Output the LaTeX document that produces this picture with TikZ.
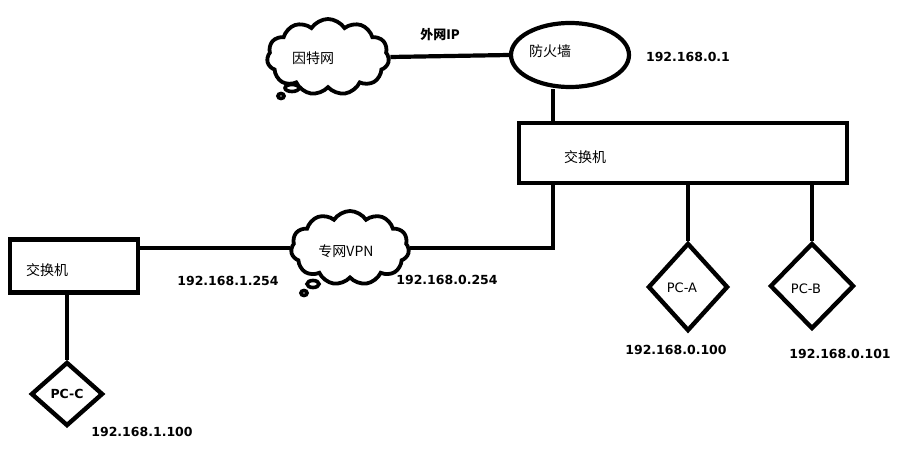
\documentclass[tikz,border=0pt]{standalone}
\usepackage{fontspec}
\setmainfont{DejaVu Sans}
\newfontfamily\cjk{Noto Sans CJK SC}
\usepackage{tikz}
\usetikzlibrary{shapes.geometric,shapes.symbols,positioning,calc}

\begin{document}
\begin{tikzpicture}[
  x=1pt, y=-1pt,
  wire/.style={draw, line width=4.2pt},
  cloudbox/.style={draw, cloud, cloud puffs=11, cloud puff arc=115, aspect=1.6, line width=3.8pt},
  fwbox/.style={draw, ellipse, minimum width=118pt, minimum height=64pt, line width=4.2pt},
  swbox/.style={draw, rectangle, line width=4.4pt},
  pcbox/.style={draw, diamond, inner sep=0pt, line width=4.4pt},
  tail/.style={draw, line width=3.6pt},
  cn/.style={font=\cjk\fontsize{14}{16}\selectfont},
  ip/.style={font=\bfseries\fontsize{12.5}{14}\selectfont},
  pcl/.style={font=\fontsize{13}{15}\selectfont},
]
\useasboundingbox (0,0) rectangle (902,449);

% --- Internet and firewall ---
\node[cloudbox, minimum width=122pt, minimum height=76pt] (inet) at (328,57) {};
\draw[tail] (292,88) ellipse (7pt and 3.5pt);
\draw[tail] (281,96) ellipse (3pt and 2.5pt);
\node[cn] (inetl) at (313,58) {因特网};
\node[fwbox] (fw) at (570,55) {};
\node[cn] (fwl) at (550,51) {防火墙};
\node[font=\cjk\bfseries\fontsize{13}{15}\selectfont] (wanl) at (440,35) {外网IP};
\node[ip] (fwip) at (688,57) {192.168.0.1};
\draw[wire] (inet.east) -- (fw.west);

% --- Main switch ---
\node[swbox, minimum width=328pt, minimum height=60pt] (sw1) at (683,153) {};
\node[cn] (sw1l) at (585,157) {交换机};
\coordinate (fwdrop) at ($(fw.south)+(-17,0)$);
\draw[wire] (fwdrop) -- (fwdrop |- sw1.north);
\coordinate (vpnup) at (553,183);

% --- VPN ---
\node[cloudbox, minimum width=118pt, minimum height=74pt] (vpn) at (350,248) {};
\draw[tail] (313,284) ellipse (6pt and 3.5pt);
\draw[tail] (304,293) ellipse (3pt and 2.5pt);
\node[cn] (vpnl) at (346,251) {专网VPN};
\draw[wire] (vpn.east) -| (vpnup);
\node[ip] (vpnip0) at (447,280) {192.168.0.254};
\node[ip] (vpnip1) at (228,281) {192.168.1.254};

% --- Remote switch ---
\node[swbox, minimum width=128pt, minimum height=53pt] (sw2) at (74,266) {};
\node[cn] (sw2l) at (47,270) {交换机};
\draw[wire] (sw2.east |- vpn.west) -- (vpn.west);

% --- PCs ---
\node[pcbox, minimum width=80pt, minimum height=88pt] (pca) at (688,287) {};
\node[pcl] (pcal) at (682,288) {PC-A};
\node[ip] (pcaip) at (676,350) {192.168.0.100};
\draw[wire] (pca.north |- sw1.south) -- (pca.north);

\node[pcbox, minimum width=84pt, minimum height=86pt] (pcb) at (812,286) {};
\node[pcl] (pcbl) at (806,289) {PC-B};
\node[ip] (pcbip) at (840,354) {192.168.0.101};
\draw[wire] (pcb.north |- sw1.south) -- (pcb.north);

\node[pcbox, minimum width=72pt, minimum height=64pt] (pcc) at (67,394) {};
\node[ip] (pccl) at (67,394) {PC-C};
\node[ip] (pccip) at (142,432) {192.168.1.100};
\draw[wire] (pcc.north |- sw2.south) -- (pcc.north);

\end{tikzpicture}
\end{document}
